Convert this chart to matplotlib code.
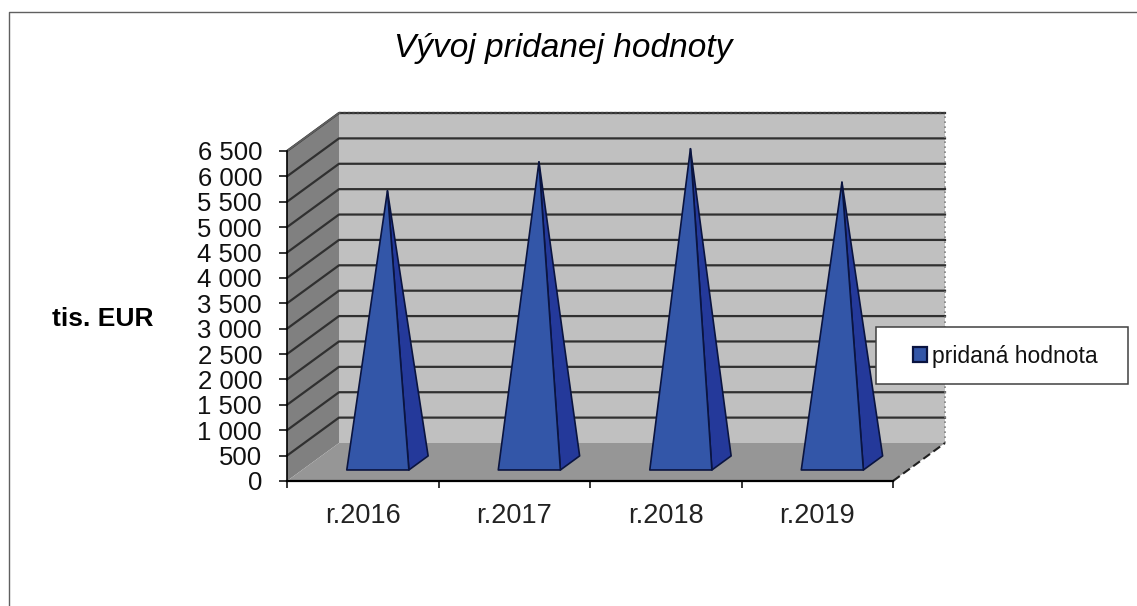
import matplotlib
matplotlib.use("Agg")
import matplotlib.pyplot as plt
from matplotlib.patches import Patch, Polygon, Rectangle

plt.rcParams["font.family"] = ["Liberation Sans", "DejaVu Sans"]

# ── Data ──────────────────────────────────────────────────────────────────────

years = ["r.2016", "r.2017", "r.2018", "r.2019"]
values = [5360, 5930, 6190, 5530]
y_ticks = list(range(0, 7000, 500))
y_labels = ["0", "500", "1 000", "1 500", "2 000", "2 500", "3 000", "3 500",
            "4 000", "4 500", "5 000", "5 500", "6 000", "6 500"]

# ── Figure ────────────────────────────────────────────────────────────────────

W, H = 1137, 606
WALL_SIDE = "#808080"
WALL_BACK = "#c0c0c0"
FLOOR = "#969696"
GRID = "#303030"
FRONT = "#3356a8"
SIDE = "#24399a"
EDGE = "#0a1440"

fig = plt.figure(figsize=(W / 100, H / 100), dpi=100, facecolor="white")
# front plane of the fake 3D box: x 287..893, y 151..481 in pixels
ax = fig.add_axes([287 / W, 1 - 481 / H, 606 / W, 330 / H])
ax.set_xlim(0, len(years))
ax.set_ylim(0, 6500)
ax.patch.set_visible(False)

# depth of the box, in data units
DX = len(years) * 52 / 606
DY = 6500 * 38 / 330
XMAX = len(years)
YMAX = 6500


def poly(pts, fc, ec="none", lw=0, z=1):
    ax.add_patch(Polygon(pts, closed=True, fc=fc, ec=ec, lw=lw, zorder=z,
                         clip_on=False, joinstyle="round"))


# walls and floor
poly([(0, 0), (DX, DY), (DX, YMAX + DY), (0, YMAX)], WALL_SIDE)
poly([(DX, DY), (XMAX + DX, DY), (XMAX + DX, YMAX + DY), (DX, YMAX + DY)], WALL_BACK)
poly([(0, 0), (XMAX, 0), (XMAX + DX, DY), (DX, DY)], FLOOR, z=2.5)

# gridlines along both walls
for v in y_ticks[1:]:
    ax.plot([0, DX, XMAX + DX], [v, v + DY, v + DY], color=GRID, lw=1.6,
            zorder=2, clip_on=False)

# dotted box edges
ax.plot([DX, XMAX + DX], [YMAX + DY, YMAX + DY], color="#404040", lw=1.6,
        ls=(0, (1, 1)), zorder=2, clip_on=False)
ax.plot([0, DX], [YMAX, YMAX + DY], color="#606060", lw=1.2, zorder=2, clip_on=False)
ax.plot([XMAX + DX, XMAX + DX], [DY, YMAX + DY], color="#808080", lw=1.2,
        ls=(0, (1, 2)), zorder=2, clip_on=False)
ax.plot([XMAX, XMAX + DX], [0, DY], color="#202020", lw=1.5,
        ls=(0, (4, 2)), zorder=2.6, clip_on=False)

# pyramids
HALF = 0.205
D_FRONT, D_BACK, D_MID = 0.29, 0.66, 0.475
for i, v in enumerate(values):
    c = i + 0.5
    fl = (c - HALF + D_FRONT * DX, D_FRONT * DY)
    fr = (c + HALF + D_FRONT * DX, D_FRONT * DY)
    br = (c + HALF + D_BACK * DX, D_BACK * DY)
    apex = (c + D_MID * DX, v + D_MID * DY)
    poly([fr, br, apex], SIDE, EDGE, 1.2, z=3)
    poly([fl, fr, apex], FRONT, EDGE, 1.2, z=3.1)

# axes
for name in ("top", "right"):
    ax.spines[name].set_visible(False)
ax.spines["left"].set_color("black")
ax.spines["left"].set_linewidth(1.2)
ax.spines["bottom"].set_color("black")
ax.spines["bottom"].set_linewidth(1.6)
ax.spines["bottom"].set_linestyle((0, (1, 1)))
ax.spines["left"].set_zorder(4)
ax.spines["bottom"].set_zorder(4)

ax.set_yticks(y_ticks)
ax.set_yticklabels(y_labels, fontsize=18.5)
ax.tick_params(axis="y", length=6, width=1.1, color="black", pad=12, labelcolor="#111111")
ax.set_xticks(range(len(years) + 1))
ax.set_xticklabels([])
ax.tick_params(axis="x", which="major", length=5, width=1.1, color="black")
ax.set_xticks([i + 0.5 for i in range(len(years))], minor=True)
ax.set_xticklabels(years, minor=True, fontsize=19.5, color="#222222")
ax.tick_params(axis="x", which="minor", length=0, pad=16)

# texts
fig.text(563 / W, 1 - 48 / H, "Vývoj pridanej hodnoty", ha="center", va="center",
         fontsize=24, style="italic", color="black")
fig.text(103 / W, 1 - 319 / H, "tis. EUR", ha="center", va="center",
         fontsize=19, weight="bold", color="black")

# chart frame, open to the right and bottom
fig.add_artist(plt.Line2D([9 / W, 9 / W, 1], [0, 1 - 12 / H, 1 - 12 / H],
                          color="#606060", lw=1.0, transform=fig.transFigure))

# legend
ax.add_patch(Rectangle((876 / W, 1 - 384 / H), 252 / W, 57 / H, fc="white",
                       ec="#404040", lw=1.1, transform=fig.transFigure, zorder=5,
                       clip_on=False))
leg = ax.legend(handles=[Patch(fc=FRONT, ec=EDGE, lw=1.6, label="pridaná hodnota")],
                loc="center left", bbox_to_anchor=(913 / W, 1 - 356 / H),
                bbox_transform=fig.transFigure, frameon=False, fontsize=16.5,
                borderpad=0, borderaxespad=0, handlelength=0.62, handleheight=0.62,
                handletextpad=0.2, labelcolor="#111111")
leg.set_zorder(6)

fig.savefig("out.png", dpi=100)
